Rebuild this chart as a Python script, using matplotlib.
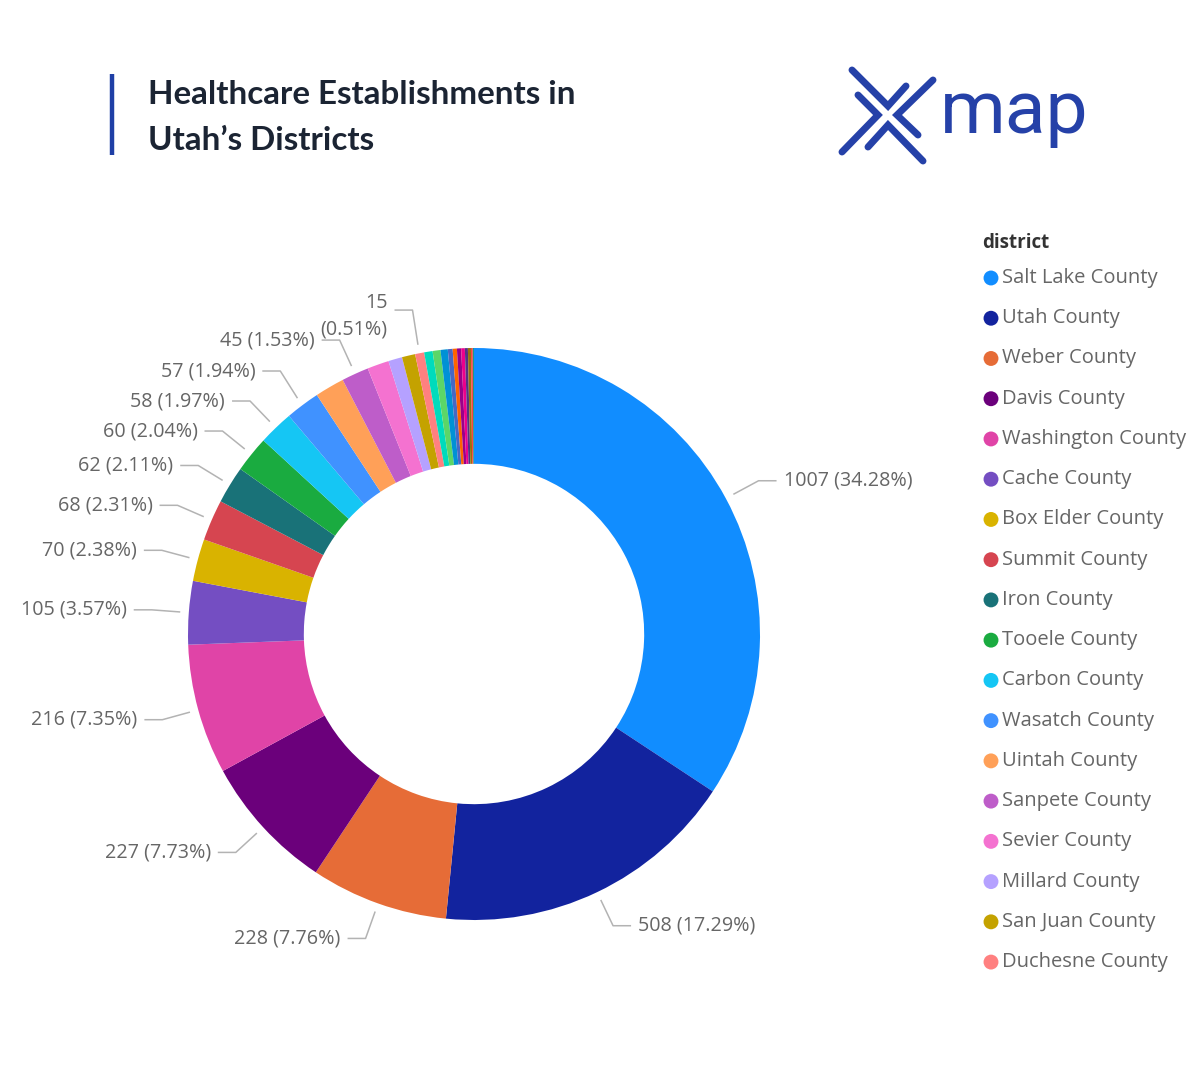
import numpy as np
import matplotlib
matplotlib.use('Agg')
import matplotlib.pyplot as plt

########## data
districts = ['Salt Lake County', 'Utah County', 'Weber County', 'Davis County',
             'Washington County', 'Cache County', 'Box Elder County', 'Summit County',
             'Iron County', 'Tooele County', 'Carbon County', 'Wasatch County',
             'Uintah County', 'Sanpete County', 'Sevier County', 'Millard County',
             'San Juan County', 'Duchesne County', 'Grand County', 'Juab County',
             'Emery County', 'Kane County', 'Beaver County', 'Garfield County',
             'Morgan County', 'Wayne County', 'Rich County', 'Piute County',
             'Daggett County']
counts = [1007, 508, 228, 227, 216, 105, 70, 68, 62, 60, 58, 57,
          49, 45, 36, 23, 22, 15, 14, 13, 12, 8, 7, 7, 6, 5, 5, 3, 2]
# Power BI default palette
colors = ['#118DFF', '#12239E', '#E66C37', '#6B007B', '#E044A7', '#744EC2',
          '#D9B300', '#D64550', '#197278', '#1AAB40', '#15C6F4', '#4092FF',
          '#FFA058', '#BE5DC9', '#F472D0', '#B5A1FF', '#C4A200', '#FF8080',
          '#00DBBC', '#5BD667', '#0091D5', '#4668C5', '#FF6300', '#99008A',
          '#EC008C', '#533285', '#99700A', '#FF4141', '#1F9A85']
labelled = ['Salt Lake County', 'Utah County', 'Weber County', 'Davis County',
            'Washington County', 'Cache County', 'Box Elder County', 'Summit County',
            'Iron County', 'Tooele County', 'Carbon County', 'Wasatch County',
            'Sanpete County', 'Duchesne County']
n_legend = 18  # legend is cut off after Duchesne

title_lines = ['Healthcare Establishments in', 'Utah\u2019s Districts']

W, H = 1200, 1080
fig = plt.figure(figsize=(W/100, H/100), dpi=100)
fig.patch.set_facecolor('white')

# overlay axes in pixel coords (y down)
ov = fig.add_axes([0, 0, 1, 1])
ov.set_xlim(0, W)
ov.set_ylim(H, 0)
ov.axis('off')

########## donut
cx, cy, R = 474, 634, 286   # pixel centre / radius
span = 2.0
ax = fig.add_axes([(cx - span*R)/W, (H - cy - span*R)/H, 2*span*R/W, 2*span*R/H])

wedges, _ = ax.pie(counts, colors=colors, startangle=90, counterclock=False,
                   radius=1.0, wedgeprops=dict(width=0.405, edgecolor='none'))
ax.set_aspect('auto')
ax.set_xlim(-span, span)
ax.set_ylim(-span, span)
ax.axis('off')

total = float(sum(counts))
txt_col = '#666666'
line_col = '#B3B3B3'
lab_font = 'Open Sans'
lab_size = 14.2

# label anchors from the slice mid-angles
cum = np.cumsum(counts) - np.array(counts)/2.0
left, right = [], []
for name, c, m in zip(districts, counts, cum):
	if name not in labelled:
		continue
	ang = np.deg2rad(90 - 360.0*m/total)  # math angle
	item = dict(txt='%d (%.2f%%)' % (c, 100.0*c/total), ang=ang,
	            y=1.13*np.sin(ang), x=1.13*np.cos(ang))
	if np.cos(ang) >= 0:
		right.append(item)
	else:
		left.append(item)

# push left labels apart (bottom -> top)
gap = 30.0/R
left.sort(key=lambda d: d['y'])
for i in range(1, len(left)):
	if left[i]['y'] - left[i-1]['y'] < gap:
		left[i]['y'] = left[i-1]['y'] + gap

for side, items in ((1, right), (-1, left)):
	for d in items:
		a = d['ang']
		x0, y0 = 1.03*np.cos(a), 1.03*np.sin(a)
		ex, ey = d['x'], d['y']
		hx = ex + side*18.0/R
		ax.plot([x0, ex, hx], [y0, ey, ey], color=line_col, lw=1.1,
		        solid_capstyle='butt', clip_on=False)
		txt = d['txt']
		if abs(np.cos(a)) < 0.25:
			txt = txt.replace(' ', '\n')
			ey = ey - 6.0/R
		ax.text(hx + side*7.0/R, ey, txt, ha='left' if side > 0 else 'right',
		        va='center', color=txt_col, fontsize=lab_size, family=lab_font,
		        multialignment='right', linespacing=1.45, clip_on=False)

########## title block
ov.plot([112, 112], [74, 155], color='#1F3FA6', lw=3.2, solid_capstyle='butt')
ov.text(148, 94, title_lines[0], fontsize=23.9, fontweight='bold', family='Lato',
        color='#1B2433', va='center', ha='left')
ov.text(148, 140, title_lines[1], fontsize=23.9, fontweight='bold', family='Lato',
        color='#1B2433', va='center', ha='left')

########## logo
logo_col = '#2541A8'
strokes = [[(852, 70), (888, 106), (906, 86)],
           [(858, 95), (878, 115), (842, 152)],
           [(933, 80), (897, 115), (918, 135)],
           [(868, 147), (888, 125), (923, 161)]]
for s in strokes:
	xs, ys = zip(*s)
	ov.plot(xs, ys, color=logo_col, lw=5.0, solid_capstyle='round',
	        solid_joinstyle='miter')
ov.text(940, 112, 'map', fontsize=54, family='Roboto', color=logo_col,
        va='center', ha='left')

########## legend
ov.text(982, 243, 'district', fontsize=13.5, fontweight='bold', family='Open Sans',
        color='#333333', va='center', ha='left')
for i in range(n_legend):
	y = 278 + i*40.24
	ov.scatter([991], [y], s=115, color=colors[i], edgecolors='none')
	ov.text(1002, y, districts[i], fontsize=14.5, family='Open Sans',
	        color=txt_col, va='center', ha='left')

fig.savefig('out.png', dpi=100, facecolor='white')
